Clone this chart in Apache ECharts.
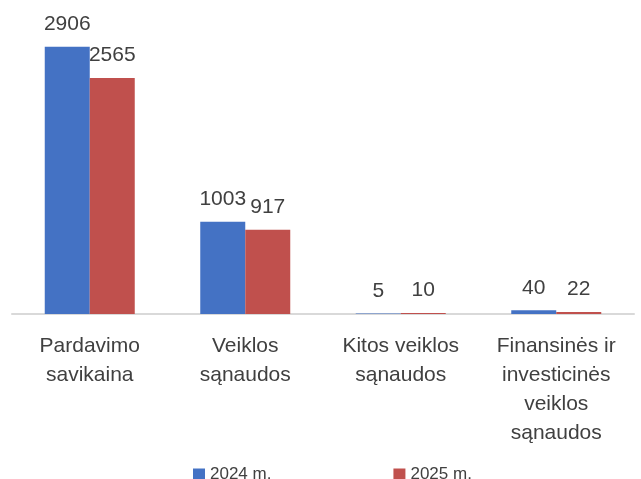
<!DOCTYPE html>
<html>
<head>
<meta charset="utf-8">
<script src="https://cdn.jsdelivr.net/npm/echarts@6/dist/echarts.min.js"></script>
<style>
  html, body { margin: 0; padding: 0; background: #fff; }
  #chart { width: 641px; height: 479px; }
</style>
</head>
<body>
<div id="chart"></div>
<script>
var categories = ['Pardavimo\nsavikaina', 'Veiklos\nsąnaudos', 'Kitos veiklos\nsąnaudos', 'Finansinės ir\ninvesticinės\nveiklos\nsąnaudos'];
var values2024 = [2906, 1003, 5, 40];
var values2025 = [2565, 917, 10, 22];
var seriesNames = ['2024 m.', '2025 m.'];

var chart = echarts.init(document.getElementById('chart'));

var labelStyle = {
    show: true,
    position: 'top',
    distance: 12,
    fontFamily: 'Liberation Sans',
    fontSize: 21,
    color: '#404040'
};

chart.setOption({
    animation: false,
    textStyle: { fontFamily: 'Liberation Sans' },
    grid: { left: 12, right: 7, top: 38, bottom: 165, containLabel: false },
    legend: {
        left: 188,
        top: 461,
        itemWidth: 12,
        itemHeight: 12,
        itemGap: 122,
        icon: 'rect',
        textStyle: { fontSize: 17, color: '#404040', fontFamily: 'Liberation Sans' },
        data: seriesNames
    },
    xAxis: {
        type: 'category',
        data: categories,
        axisLine: { lineStyle: { color: '#d9d9d9', width: 2 } },
        axisTick: { show: false },
        axisLabel: {
            interval: 0,
            margin: 18,
            fontSize: 21,
            lineHeight: 29,
            color: '#404040',
            fontFamily: 'Liberation Sans'
        }
    },
    yAxis: {
        type: 'value',
        min: 0,
        max: 3000,
        show: false,
        splitLine: { show: false }
    },
    series: [
        {
            name: seriesNames[0],
            type: 'bar',
            data: values2024,
            barWidth: 45,
            barGap: '0%',
            itemStyle: { color: '#4472C4' },
            label: labelStyle
        },
        {
            name: seriesNames[1],
            type: 'bar',
            data: values2025,
            barWidth: 45,
            barGap: '0%',
            itemStyle: { color: '#C0504D' },
            label: labelStyle
        }
    ]
});

window.addEventListener('resize', function () {
    chart.resize();
});
</script>
</body>
</html>
